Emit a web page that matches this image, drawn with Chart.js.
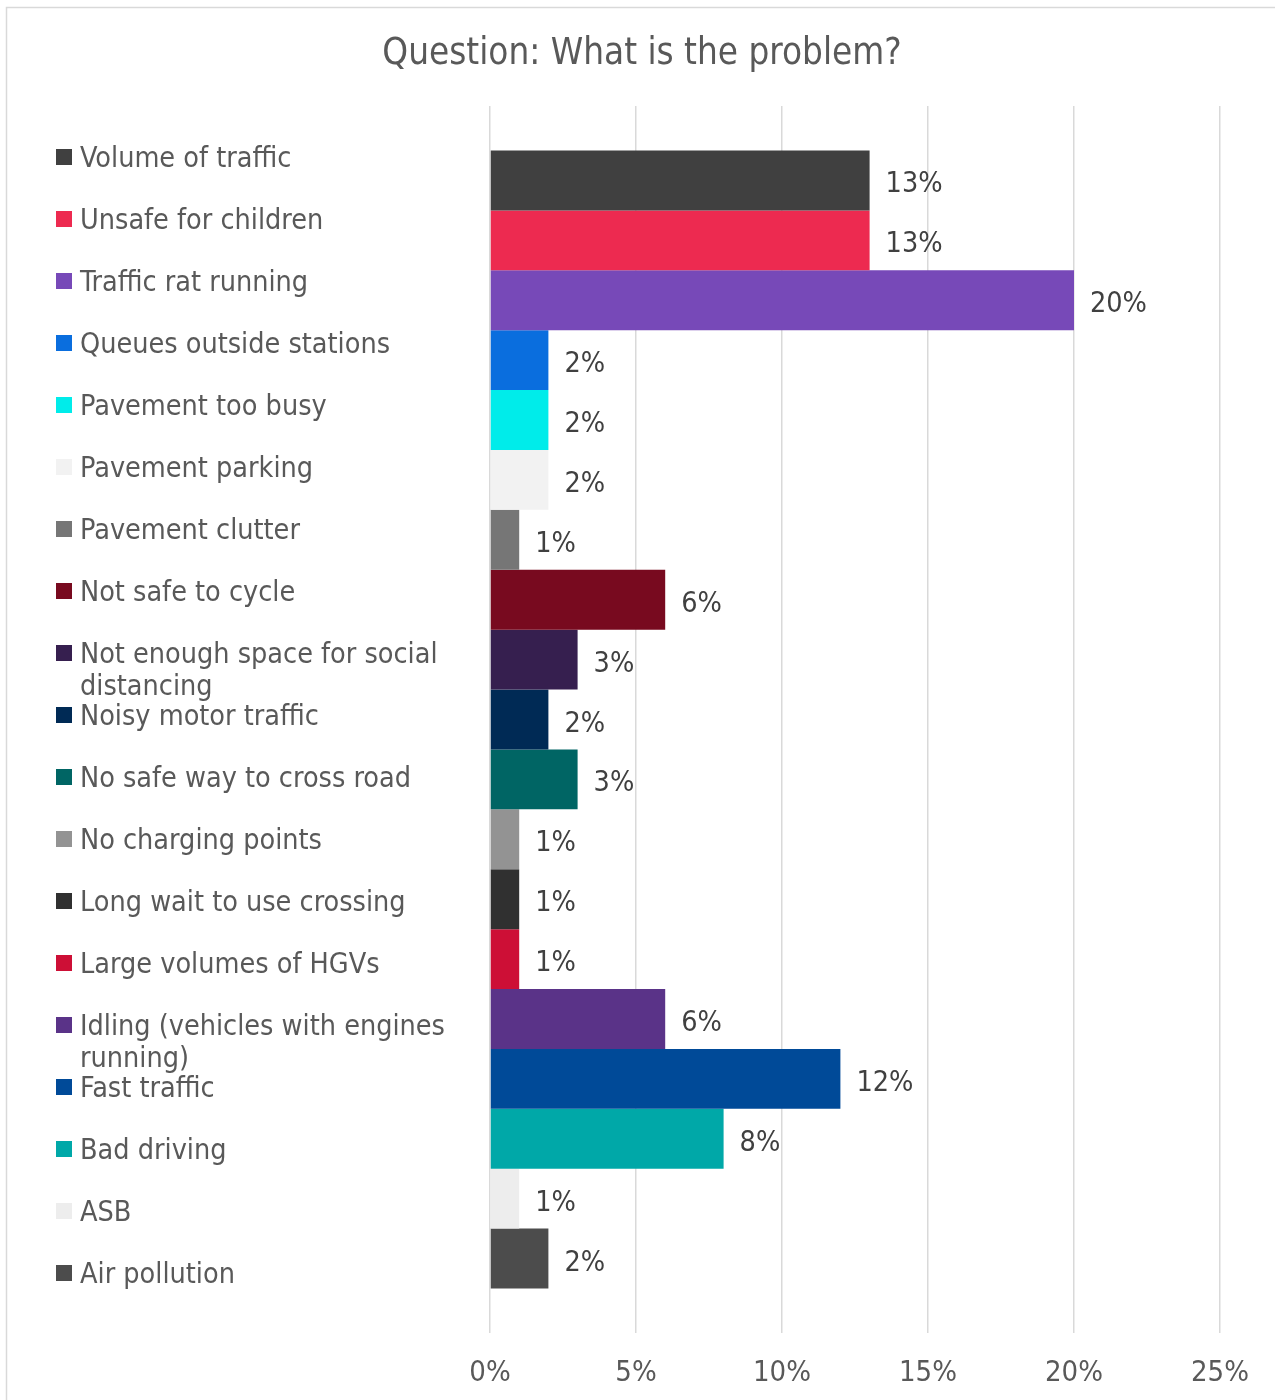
<!DOCTYPE html>
<html>
<head>
<meta charset="utf-8">
<title>Question: What is the problem?</title>
<script src="https://cdn.jsdelivr.net/npm/chart.js@4/dist/chart.umd.min.js"></script>
<style>
  html, body { margin: 0; padding: 0; background: #ffffff; }
  #wrap { position: relative; width: 1275px; height: 1400px; }
  canvas { display: block; }
</style>
</head>
<body>
<div id="wrap"><canvas id="chart" width="1275" height="1400"></canvas></div>
<script>
// Survey answers, one series per problem, all sharing a single category
const chartTitle = 'Question: What is the problem?';
const problems = [
  'Volume of traffic',
  'Unsafe for children',
  'Traffic rat running',
  'Queues outside stations',
  'Pavement too busy',
  'Pavement parking',
  'Pavement clutter',
  'Not safe to cycle',
  'Not enough space for social distancing',
  'Noisy motor traffic',
  'No safe way to cross road',
  'No charging points',
  'Long wait to use crossing',
  'Large volumes of HGVs',
  'Idling (vehicles with engines running)',
  'Fast traffic',
  'Bad driving',
  'ASB',
  'Air pollution'
];
const shares = [13, 13, 20, 2, 2, 2, 1, 6, 3, 2, 3, 1, 1, 1, 6, 12, 8, 1, 2];
const colours = [
  '#404040', '#ED2A50', '#7749B8', '#0A6EDE', '#00ECEA', '#F2F2F2',
  '#767676', '#780A1F', '#361F4F', '#002A55', '#006564', '#939393',
  '#303030', '#CD0F36', '#5A3388', '#004A98', '#00A8A8', '#EDEDED', '#4C4C4C'
];
const axisTicks = [0, 5, 10, 15, 20, 25];

const FONT = "'DejaVu Sans Condensed', 'DejaVu Sans', sans-serif";
const TEXT_GREY = '#595959';
const LABEL_GREY = '#404040';
const GRID_GREY = '#D9D9D9';

const datasets = problems.map((name, i) => ({
  label: name,
  data: [shares[i]],
  backgroundColor: colours[i],
  borderWidth: 0
}));

// Outer frame and title
const framePlugin = {
  id: 'frame',
  beforeDraw(chart) {
    const ctx = chart.ctx;
    ctx.save();
    ctx.strokeStyle = GRID_GREY;
    ctx.lineWidth = 1.5;
    ctx.beginPath();
    ctx.moveTo(6.5, chart.height);
    ctx.lineTo(6.5, 7.5);
    ctx.lineTo(chart.width, 7.5);
    ctx.stroke();
    ctx.fillStyle = TEXT_GREY;
    ctx.font = '36.5px ' + FONT;
    ctx.textAlign = 'center';
    ctx.textBaseline = 'alphabetic';
    ctx.fillText(chartTitle, 642, 64);
    ctx.restore();
  }
};

// Legend down the left side, wrapping long names
const sideLegend = {
  id: 'sideLegend',
  afterDraw(chart) {
    const ctx = chart.ctx;
    ctx.save();
    ctx.font = '28.5px ' + FONT;
    ctx.textAlign = 'left';
    ctx.textBaseline = 'alphabetic';
    const maxWidth = 395;
    chart.data.datasets.forEach((ds, i) => {
      const cy = 157 + 62 * i;
      ctx.fillStyle = ds.backgroundColor;
      ctx.fillRect(56, cy - 8, 16, 16);
      ctx.fillStyle = TEXT_GREY;
      const words = ds.label.split(' ');
      const lines = [];
      let line = '';
      words.forEach(w => {
        const test = line ? line + ' ' + w : w;
        if (line && ctx.measureText(test).width > maxWidth) {
          lines.push(line);
          line = w;
        } else {
          line = test;
        }
      });
      lines.push(line);
      lines.forEach((l, k) => ctx.fillText(l, 80, cy + 9.5 + 32 * k));
    });
    ctx.restore();
  }
};

// Value labels at the end of each bar
const valueLabels = {
  id: 'valueLabels',
  afterDatasetsDraw(chart) {
    const ctx = chart.ctx;
    ctx.save();
    ctx.font = '28.5px ' + FONT;
    ctx.fillStyle = LABEL_GREY;
    ctx.textAlign = 'left';
    ctx.textBaseline = 'alphabetic';
    chart.data.datasets.forEach((ds, i) => {
      const bar = chart.getDatasetMeta(i).data[0];
      ctx.fillText(ds.data[0] + '%', bar.x + 16, bar.y + 12);
    });
    ctx.restore();
  }
};

new Chart(document.getElementById('chart'), {
  type: 'bar',
  data: { labels: [''], datasets },
  options: {
    indexAxis: 'y',
    responsive: false,
    animation: false,
    events: [],
    categoryPercentage: 0.9275,
    barPercentage: 1,
    layout: { padding: { left: 490, right: 55, top: 106, bottom: 0 } },
    plugins: {
      legend: { display: false },
      tooltip: { enabled: false },
      title: { display: false }
    },
    scales: {
      y: { display: false },
      x: {
        min: axisTicks[0],
        max: axisTicks[axisTicks.length - 1],
        afterBuildTicks(scale) {
          scale.ticks = axisTicks.map(v => ({ value: v }));
        },
        afterFit(scale) { scale.height = 67; },
        border: { display: false },
        grid: { color: GRID_GREY, lineWidth: 1.5, drawTicks: false },
        ticks: {
          padding: 23,
          color: TEXT_GREY,
          font: { family: FONT, size: 29 },
          callback: v => v + '%'
        }
      }
    }
  },
  plugins: [framePlugin, valueLabels, sideLegend]
});
</script>
</body>
</html>
